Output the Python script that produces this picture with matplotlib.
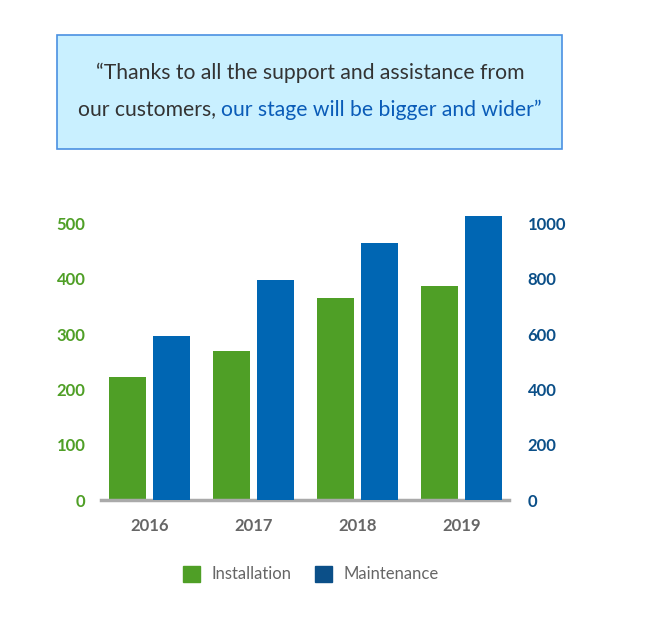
import matplotlib.pyplot as plt
from matplotlib.patches import Rectangle, Patch
import numpy as np

plt.rcParams['font.family'] = ['Lato', 'DejaVu Sans']

years = ['2016', '2017', '2018', '2019']
installation = [222, 269, 366, 386]
maintenance = [592, 794, 928, 1025]

green = '#4f9f26'
blue = '#0066b3'
dark_blue = '#0b4f88'
grey_text = '#666666'

fig = plt.figure(figsize=(6.5, 6.19), dpi=100)
ax = fig.add_axes([0.155, 0.192, 0.628, 0.483])
ax2 = ax.twinx()

x = np.arange(len(years))
w = 0.36
off = 0.213
ax.bar(x - off, installation, w, color=green, zorder=2)
ax2.bar(x + off, maintenance, w, color=blue, zorder=2)

ax.set_xlim(-0.47, 3.457)
ax.set_ylim(0, 540)
ax2.set_ylim(0, 1080)
ax.set_yticks([0, 100, 200, 300, 400, 500])
ax2.set_yticks([0, 200, 400, 600, 800, 1000])
ax.set_xticks(x)
ax.set_xticklabels(years)

for a in (ax, ax2):
    for s in ('top', 'left', 'right', 'bottom'):
        a.spines[s].set_visible(False)
ax.spines['bottom'].set_visible(True)
ax.spines['bottom'].set_color('#aaaaaa')
ax.spines['bottom'].set_linewidth(2.5)

ax.tick_params(axis='y', length=0, pad=11, labelsize=12, labelcolor=green)
ax2.tick_params(axis='y', length=0, pad=13.5, labelsize=12, labelcolor=dark_blue)
ax.tick_params(axis='x', length=0, pad=12.5, labelsize=12, labelcolor=grey_text)
for lbl in ax.get_yticklabels() + ax2.get_yticklabels() + ax.get_xticklabels():
    lbl.set_fontweight('bold')

# quote box
box = Rectangle((57 / 650, 1 - 149 / 619), 505 / 650, 114 / 619, transform=fig.transFigure,
                facecolor='#c9f0ff', edgecolor='#4a90e2', linewidth=1.2)
fig.patches.append(box)
fig.text(310 / 650, 1 - 73 / 619, '\u201cThanks to all the support and assistance from',
         ha='center', va='center', fontsize=15.2, color='#333333')

# second line in two colours
part1 = 'our customers, '
part2 = 'our stage will be bigger and wider\u201d'
y2 = 1 - 110 / 619
t1 = fig.text(0, y2, part1, ha='left', va='center', fontsize=15.2, color='#333333')
t2 = fig.text(0, y2, part2, ha='left', va='center', fontsize=15.2, color='#0a5cb8')
fig.canvas.draw()
r = fig.canvas.get_renderer()
w1 = t1.get_window_extent(r).width
w2 = t2.get_window_extent(r).width
x0 = 310 - (w1 + w2) / 2
t1.set_x(x0 / 650)
t2.set_x((x0 + w1) / 650)

handles = [Patch(color=green, label='Installation'), Patch(color=dark_blue, label='Maintenance')]
fig.legend(handles=handles, loc='center', bbox_to_anchor=(311 / 650, 1 - 574 / 619), ncol=2,
           frameon=False, fontsize=12, labelcolor=grey_text, handlelength=1.0, handleheight=1.1,
           columnspacing=1.4, handletextpad=0.7)

fig.savefig('out.png', dpi=100)
